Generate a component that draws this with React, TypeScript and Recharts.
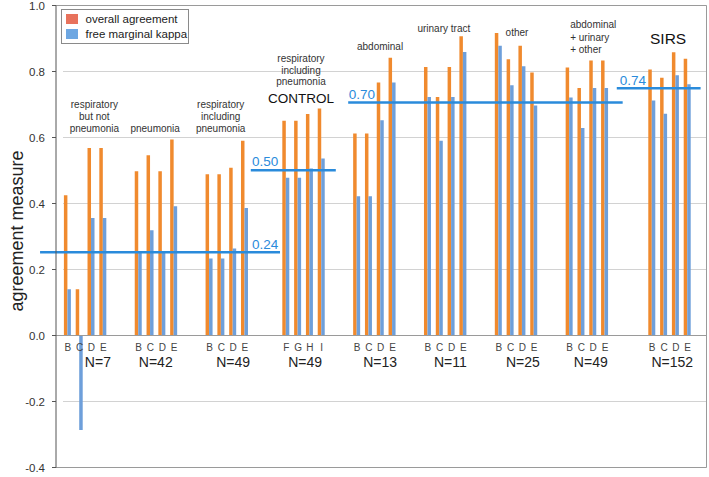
import React from 'react';
import { BarChart, Bar, XAxis, YAxis, CartesianGrid, ReferenceLine, ReferenceDot, Legend } from 'recharts';

// ---------------- data ----------------
const groupLabels: string[][] = [
  ['respiratory', 'but not', 'pneumonia'],
  ['pneumonia'],
  ['respiratory', 'including', 'pneumonia'],
  ['respiratory', 'including', 'pneumonia'],
  ['abdominal'],
  ['urinary tract'],
  ['other'],
  ['abdominal', '+ urinary', '+ other'],
  ['SIRS'],
];
const controlTitle = 'CONTROL';
const groupSizes = ['N=7', 'N=42', 'N=49', 'N=49', 'N=13', 'N=11', 'N=25', 'N=49', 'N=152'];
const raterLetters: string[][] = [
  ['B', 'C', 'D', 'E'],
  ['B', 'C', 'D', 'E'],
  ['B', 'C', 'D', 'E'],
  ['F', 'G', 'H', 'I'],
  ['B', 'C', 'D', 'E'],
  ['B', 'C', 'D', 'E'],
  ['B', 'C', 'D', 'E'],
  ['B', 'C', 'D', 'E'],
  ['B', 'C', 'D', 'E'],
];
const overallAgreement: number[][] = [
  [0.425, 0.140, 0.568, 0.568],
  [0.498, 0.546, 0.498, 0.594],
  [0.489, 0.489, 0.508, 0.590],
  [0.651, 0.651, 0.671, 0.688],
  [0.612, 0.612, 0.767, 0.842],
  [0.814, 0.723, 0.814, 0.907],
  [0.917, 0.837, 0.878, 0.797],
  [0.812, 0.750, 0.833, 0.833],
  [0.806, 0.781, 0.858, 0.839],
];
const freeMarginalKappa: number[][] = [
  [0.140, -0.286, 0.356, 0.356],
  [0.253, 0.319, 0.253, 0.392],
  [0.233, 0.233, 0.264, 0.386],
  [0.478, 0.478, 0.506, 0.536],
  [0.422, 0.422, 0.652, 0.767],
  [0.723, 0.590, 0.723, 0.859],
  [0.878, 0.758, 0.816, 0.697],
  [0.721, 0.629, 0.750, 0.750],
  [0.712, 0.672, 0.789, 0.761],
];
const meanKappaLabels = ['0.24', '0.50', '0.70', '0.74'];
const meanKappaLevels = [0.252, 0.501, 0.706, 0.749];
const yTicks = [-0.4, -0.2, 0, 0.2, 0.4, 0.6, 0.8, 1.0];
const seriesNames = ['overall agreement', 'free marginal kappa'];
const yTitle = 'agreement measure';

// ---------------- layout / style ----------------
const FONT = '"Liberation Sans", Arial, Helvetica, sans-serif';
const ORANGE = '#F08A2E';
const BLUE = '#6E9FDA';
const LEGEND_COLORS = ['#E8725C', '#6EA7E2'];
const LINE_BLUE = '#2A8BDB';
const GROUP_START = [0, 12, 24, 37, 49, 61, 73, 85, 99];
const X_DOMAIN: [number, number] = [-2, 108.2];
const MEAN_SPANS = [[-4.7, 35.95], [31.0, 45.4], [47.5, 94.0], [93.0, 107.2]];
const MEAN_LABEL_X = [31.2, 31.2, 47.6, 93.5];
const GROUP_LABEL_POS: any[] = [
  { x: 4.5, y: 0.70 },
  { x: 14.8, y: 0.628 },
  { x: 25.9, y: 0.70 },
  { x: 39.5, y: 0.839, lh: 11.5 },
  { x: 52.9, y: 0.877 },
  { x: 63.7, y: 0.931 },
  { x: 76.1, y: 0.919 },
  { x: 85.1, y: 0.941, anchor: 'start', lh: 12.5 },
  { x: 101.7, y: 0.90, size: 15.5, color: '#111' },
];
const CONTROL_POS = { x: 39.5, y: 0.72 };
const N_SHIFT = [2.1, -0.1, 1, 0.2, 0.9, 0.8, 1.1, 0.6, 0.4];

const rows = overallAgreement.flatMap((vals, g) =>
  vals.map((v, k) => ({
    pos: GROUP_START[g] + 2 * k,
    overall: v,
    kappa: freeMarginalKappa[g][k],
    letter: raterLetters[g][k],
  }))
);

const TextLabel = (props: any) => {
  const { viewBox, lines, shiftX = 0, shiftY = 0, size = 10, color = '#333', anchor = 'middle', lh = 12, rot = 0 } = props;
  if (!viewBox) return null;
  const x = viewBox.x + (viewBox.width || 0) / 2 + shiftX;
  const y = viewBox.y + (viewBox.height || 0) / 2 + shiftY;
  return (
    <text
      textAnchor={anchor}
      fontSize={size}
      fill={color}
      fontFamily={FONT}
      transform={rot ? `rotate(${rot}, ${x}, ${y})` : undefined}
    >
      {lines.map((l: string, i: number) => (
        <tspan key={i} x={x} y={y + i * lh} dy="0.35em">
          {l}
        </tspan>
      ))}
    </text>
  );
};

const LegendBox = () => (
  <div
    style={{
      width: 128,
      height: 35,
      border: '1px solid #8a8a8a',
      background: '#fff',
      boxSizing: 'border-box',
      position: 'relative',
      fontFamily: FONT,
      fontSize: 11.5,
      color: '#222',
    }}
  >
    {seriesNames.map((n, i) => (
      <div
        key={n}
        style={{
          position: 'absolute',
          left: 4,
          top: 4 + i * 14.6,
          height: 10,
          display: 'flex',
          alignItems: 'center',
          whiteSpace: 'nowrap',
          lineHeight: '10px',
        }}
      >
        <span style={{ display: 'inline-block', width: 12, height: 10, background: LEGEND_COLORS[i], marginRight: 7.5 }} />
        <span>{n}</span>
      </div>
    ))}
  </div>
);

export default function App() {
  return (
    <div style={{ position: 'absolute', left: 0, top: 0, width: 709, height: 477, background: '#fff' }}>
      <BarChart
        width={709}
        height={477}
        data={rows}
        margin={{ top: 5.5, right: 2.5, bottom: 9.5, left: 0 }}
        barGap={0}
        style={{ fontFamily: FONT }}
      >
        <CartesianGrid horizontal vertical={false} stroke="#d2d2d2" x={63} width={643.5} />
        <XAxis type="number" dataKey="pos" domain={X_DOMAIN} allowDataOverflow hide />
        <YAxis
          type="number"
          domain={[-0.4, 1.0]}
          ticks={yTicks}
          interval={0}
          allowDataOverflow
          width={56}
          tickSize={4}
          tickMargin={7}
          axisLine={{ stroke: '#555' }}
          tickLine={{ stroke: '#555' }}
          tick={{ fontSize: 11.5, fill: '#333', fontFamily: FONT }}
          tickFormatter={(v: number) => v.toFixed(1)}
        />
        <Legend
          content={<LegendBox />}
          layout="horizontal"
          verticalAlign="middle"
          align="center"
          wrapperStyle={{ left: 61, top: 9, width: 128, height: 35 }}
        />
        <Bar dataKey="overall" name={seriesNames[0]} fill={ORANGE} barSize={3.5} isAnimationActive={false} />
        <Bar dataKey="kappa" name={seriesNames[1]} fill={BLUE} barSize={3.5} isAnimationActive={false} />

        <ReferenceLine y={0} stroke="#9a9a9a" ifOverflow="visible" />
        <ReferenceLine y={1} stroke="#9a9a9a" ifOverflow="visible" />
        <ReferenceLine y={-0.4} stroke="#9a9a9a" ifOverflow="visible" />
        <ReferenceLine x={X_DOMAIN[1]} stroke="#9a9a9a" ifOverflow="visible" />

        {meanKappaLevels.map((lv, i) => (
          <ReferenceLine
            key={'m' + i}
            segment={[
              { x: MEAN_SPANS[i][0], y: lv },
              { x: MEAN_SPANS[i][1], y: lv },
            ]}
            stroke={LINE_BLUE}
            strokeWidth={2.5}
            ifOverflow="visible"
          />
        ))}
        {meanKappaLevels.map((lv, i) => (
          <ReferenceDot
            key={'ml' + i}
            x={MEAN_LABEL_X[i]}
            y={lv}
            r={0}
            fill="none"
            stroke="none"
            ifOverflow="visible"
            label={<TextLabel lines={[meanKappaLabels[i]]} anchor="start" shiftY={-8.5} size={13.5} color={LINE_BLUE} />}
          />
        ))}

        {rows.map((r, i) => (
          <ReferenceDot
            key={'l' + i}
            x={r.pos}
            y={0}
            r={0}
            fill="none"
            stroke="none"
            ifOverflow="visible"
            label={<TextLabel lines={[r.letter]} shiftY={12.3} size={10} color="#444" />}
          />
        ))}
        {groupSizes.map((n, g) => (
          <ReferenceDot
            key={'n' + g}
            x={GROUP_START[g] + 3 + N_SHIFT[g]}
            y={0}
            r={0}
            fill="none"
            stroke="none"
            ifOverflow="visible"
            label={<TextLabel lines={[n]} shiftY={26.8} size={14} color="#222" />}
          />
        ))}
        {groupLabels.map((lines, g) => {
          const p = GROUP_LABEL_POS[g];
          return (
            <ReferenceDot
              key={'g' + g}
              x={p.x}
              y={p.y}
              r={0}
              fill="none"
              stroke="none"
              ifOverflow="visible"
              label={
                <TextLabel
                  lines={lines}
                  size={p.size || 10}
                  color={p.color || '#333'}
                  anchor={p.anchor || 'middle'}
                  lh={p.lh || 12.2}
                />
              }
            />
          );
        })}
        <ReferenceDot
          x={CONTROL_POS.x}
          y={CONTROL_POS.y}
          r={0}
          fill="none"
          stroke="none"
          ifOverflow="visible"
          label={<TextLabel lines={[controlTitle]} size={13.5} color="#111" />}
        />
        <ReferenceDot
          x={X_DOMAIN[0]}
          y={0.3167}
          r={0}
          fill="none"
          stroke="none"
          ifOverflow="visible"
          label={<TextLabel lines={[yTitle]} shiftX={-39.3} size={18} color="#222" rot={-90} />}
        />
      </BarChart>
    </div>
  );
}
